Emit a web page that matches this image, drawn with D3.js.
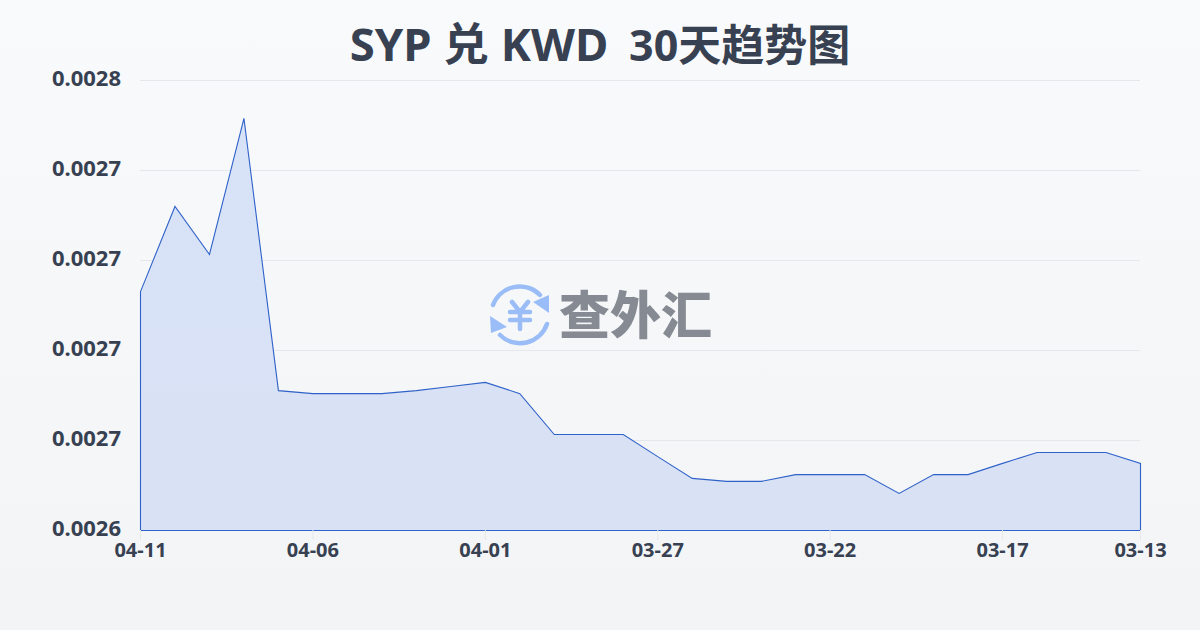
<!DOCTYPE html>
<html>
<head>
<meta charset="utf-8">
<script src="https://cdn.jsdelivr.net/npm/d3@7"></script>
<style>
  html, body { margin: 0; padding: 0; }
  text { font-family: "Noto Sans", "Noto Sans CJK SC", sans-serif; }
</style>
</head>
<body>
<div id="chart"></div>
<script>
// data
const dates = ['04-11', '04-10', '04-09', '04-08', '04-07', '04-06', '04-05', '04-04', '04-03', '04-02',
  '04-01', '03-31', '03-30', '03-29', '03-28', '03-27', '03-26', '03-25', '03-24', '03-23',
  '03-22', '03-21', '03-20', '03-19', '03-18', '03-17', '03-16', '03-15', '03-14', '03-13'];
const rates = [0.0027037, 0.0027264, 0.0027136, 0.0027499, 0.0026773, 0.0026765, 0.0026765, 0.0026765, 0.0026773, 0.0026784,
  0.0026795, 0.0026765, 0.0026656, 0.0026656, 0.0026656, 0.0026597, 0.0026539, 0.0026531, 0.0026531, 0.0026549,
  0.0026549, 0.0026549, 0.0026499, 0.0026549, 0.0026549, 0.0026579, 0.0026608, 0.0026608, 0.0026608, 0.0026579];
const xTickDates = ['04-11', '04-06', '04-01', '03-27', '03-22', '03-17', '03-13'];
const yTicks = [0.00264, 0.002664, 0.002688, 0.002712, 0.002736, 0.00276];
const yDomain = [0.00264, 0.00276];
const titleHead = 'SYP 兑 KWD';
const titleTail = '30天趋势图';

const width = 1200;
const height = 630;
const margin = {top: 80, right: 60, bottom: 100, left: 140};

const svg = d3.select('#chart').append('svg')
    .attr('width', width)
    .attr('height', height)
    .style('display', 'block');

const defs = svg.append('defs');
const bg = defs.append('linearGradient').attr('id', 'bg')
    .attr('x1', 0).attr('y1', 0).attr('x2', 0).attr('y2', 1);
bg.append('stop').attr('offset', '0%').attr('stop-color', '#f8fafc');
bg.append('stop').attr('offset', '100%').attr('stop-color', '#f3f4f6');

const areaFill = defs.append('linearGradient').attr('id', 'areaFill')
    .attr('gradientUnits', 'userSpaceOnUse')
    .attr('x1', 0).attr('y1', margin.top).attr('x2', 0).attr('y2', height - margin.bottom);
areaFill.append('stop').attr('offset', '0%').attr('stop-color', '#d8e3f8');
areaFill.append('stop').attr('offset', '100%').attr('stop-color', '#d9e1f4');

svg.append('rect').attr('width', width).attr('height', height).attr('fill', 'url(#bg)');

const xScale = d3.scalePoint().domain(dates).range([margin.left + 0.5, width - margin.right + 0.5]);
const yScale = d3.scaleLinear().domain(yDomain).range([height - margin.bottom + 0.5, margin.top + 0.5]);

// grid + y axis
const yAxis = svg.append('g')
    .attr('transform', 'translate(' + margin.left + ',0)')
    .call(d3.axisLeft(yScale).tickValues(yTicks).tickFormat(d3.format('.4f')).tickSize(0).tickPadding(19).offset(0));
yAxis.select('.domain').remove();
yAxis.selectAll('text')
    .attr('font-size', 22)
    .attr('font-weight', 700)
    .attr('fill', '#374151')
    .attr('dy', '0.26em');
yAxis.selectAll('.tick').append('line')
    .attr('x2', width - margin.right - margin.left)
    .attr('stroke', '#e5e7eb')
    .attr('stroke-width', 1);

// area
const area = d3.area()
    .x((d, i) => xScale(dates[i]))
    .y0(yScale(yDomain[0]))
    .y1((d) => yScale(d));
svg.append('path')
    .datum(rates)
    .attr('d', area)
    .attr('fill', 'url(#areaFill)')
    .attr('stroke', '#2f62c9')
    .attr('stroke-width', 1.1);

// x axis
const xAxis = svg.append('g')
    .attr('transform', 'translate(0,' + (height - margin.bottom) + ')')
    .call(d3.axisBottom(xScale).tickValues(xTickDates).tickSize(10).tickPadding(3).offset(0));
xAxis.select('.domain').remove();
xAxis.selectAll('line').attr('stroke', '#e5e7eb');
xAxis.selectAll('text')
    .attr('font-size', 20)
    .attr('font-weight', 700)
    .attr('fill', '#374151');

// title
const titleText = svg.append('text')
    .attr('x', 600)
    .attr('y', 61)
    .attr('text-anchor', 'middle')
    .attr('font-weight', 700)
    .attr('fill', '#374151');
titleText.append('tspan').attr('font-size', 45.5).text(titleHead + ' ');
titleText.append('tspan').attr('font-size', 43).attr('dx', 9).text(titleTail);

// watermark
const mark = svg.append('g').attr('transform', 'translate(520,315)');
const ringColor = '#9bbdf7';
mark.append('path')
    .attr('d', 'M-27,-10 A28.5,28.5 0 0 1 20,-20')
    .attr('fill', 'none').attr('stroke', ringColor).attr('stroke-width', 4.5).attr('stroke-linecap', 'round');
mark.append('path').attr('d', 'M29,-20 L29,-2 L13,-13 Z').attr('fill', ringColor);
mark.append('path')
    .attr('d', 'M27,9 A28.5,28.5 0 0 1 -20,20')
    .attr('fill', 'none').attr('stroke', ringColor).attr('stroke-width', 4.5).attr('stroke-linecap', 'round');
mark.append('path').attr('d', 'M-30,1 L-29,18 L-13,12 Z').attr('fill', ringColor);
mark.append('path')
    .attr('d', 'M-8,-13 L0,-3 L8,-13 M-10,-3 L10,-3 M-10,5 L10,5 M0,-3 L0,14')
    .attr('fill', 'none').attr('stroke', ringColor).attr('stroke-width', 4.5).attr('stroke-linecap', 'round');

svg.append('text')
    .attr('x', 559)
    .attr('y', 334)
    .attr('font-size', 51)
    .attr('font-weight', 900)
    .attr('fill', '#858a93')
    .style('font-family', '"Noto Sans CJK SC", sans-serif')
    .text('查外汇');
</script>
</body>
</html>
